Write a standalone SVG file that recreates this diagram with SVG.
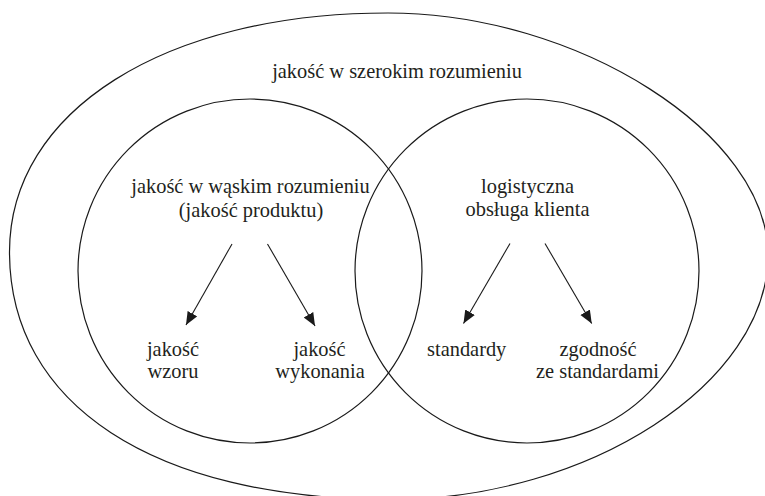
<svg xmlns="http://www.w3.org/2000/svg" width="765" height="496" viewBox="0 0 765 496">
  <defs>
    <style>
      .shape { fill: none; stroke: #1a1a1a; stroke-width: 1.2; }
      .conn { stroke: #1a1a1a; stroke-width: 1.1; fill: none; marker-end: url(#arrow); }
      text { font-family: "Liberation Serif", "Times New Roman", serif; font-size: 20.4px; fill: #231f20; text-anchor: middle; }
    </style>
    <marker id="arrow" markerUnits="userSpaceOnUse" markerWidth="14" markerHeight="12" refX="13" refY="5.5" orient="auto">
      <path d="M0,0 L13,5.5 L0,11 z" fill="#1a1a1a"/>
    </marker>
  </defs>
  <rect width="765" height="496" fill="#ffffff"/>

  <g id="broad">
    <path class="shape" d="M388,13 C164.7,13 9.5,111 9.5,252 C9.5,404 153,499.5 391,499.5 C589,499.5 768,383 768,255 C768,134 578,13 388,13 Z"/>
    <text x="397" y="78">jakość w szerokim rozumieniu</text>
  </g>

  <g id="narrow">
    <circle class="shape" cx="250" cy="271" r="172"/>
    <text x="250.5" y="193">jakość w wąskim rozumieniu</text>
    <text x="251" y="216.5">(jakość produktu)</text>
  </g>

  <g id="logistics">
    <circle class="shape" cx="527" cy="271" r="172"/>
    <text x="527.5" y="193">logistyczna</text>
    <text x="527.5" y="216">obsługa klienta</text>
  </g>

  <g id="design">
    <text x="173" y="356">jakość</text>
    <text x="173" y="377.5">wzoru</text>
  </g>

  <g id="execution">
    <text x="319.5" y="356">jakość</text>
    <text x="320" y="377.5">wykonania</text>
  </g>

  <g id="standards">
    <text x="466.7" y="355.5">standardy</text>
  </g>

  <g id="conformance">
    <text x="598" y="356">zgodność</text>
    <text x="597.5" y="377.5">ze standardami</text>
  </g>

  <g id="connectors">
    <line class="conn" x1="232" y1="244" x2="186" y2="325"/>
    <line class="conn" x1="267.5" y1="244" x2="315" y2="326"/>
    <line class="conn" x1="510" y1="243.5" x2="463.5" y2="323.5"/>
    <line class="conn" x1="545" y1="243.5" x2="591.7" y2="323.5"/>
  </g>
</svg>
